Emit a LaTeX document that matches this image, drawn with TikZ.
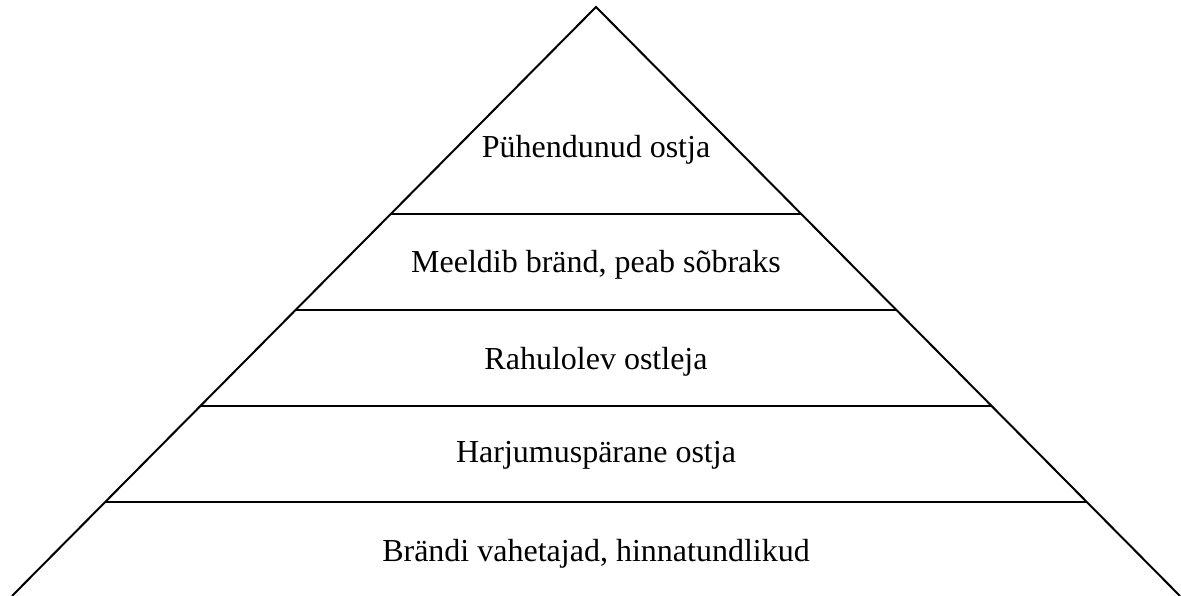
\documentclass[tikz,border=0pt]{standalone}
\usepackage{fontspec}
\setmainfont{Liberation Serif}
\usetikzlibrary{calc}
\tikzset{
  edge/.style ={line width=2pt, line join=miter},
  lvl/.style  ={anchor=base, inner sep=0pt, font=\fontsize{32}{38}\selectfont}
}

\begin{document}
\begin{tikzpicture}[x=1pt,y=1pt]
\useasboundingbox (0,0) rectangle (1181,596);
\coordinate (top) at (596,589);
\coordinate (bl) at (12,0);
\coordinate (br) at (1180,0);
\draw[edge] (bl) -- (top) -- (br);
\foreach \f [count=\i] in {0.3514,0.5144,0.6774,0.8404}{
  \coordinate (l\i) at ($(top)!\f!(bl)$);
  \coordinate (r\i) at ($(top)!\f!(br)$);
  \draw[edge] (l\i) -- (r\i);
}
\node[lvl] (t1) at (596,438) {Pühendunud ostja};
\node[lvl] (t2) at (596,323) {Meeldib bränd, peab sõbraks};
\node[lvl] (t3) at (596,226) {Rahulolev ostleja};
\node[lvl] (t4) at (596,133) {Harjumuspärane ostja};
\node[lvl] (t5) at (596,34)  {Brändi vahetajad, hinnatundlikud};
\end{tikzpicture}
\end{document}
